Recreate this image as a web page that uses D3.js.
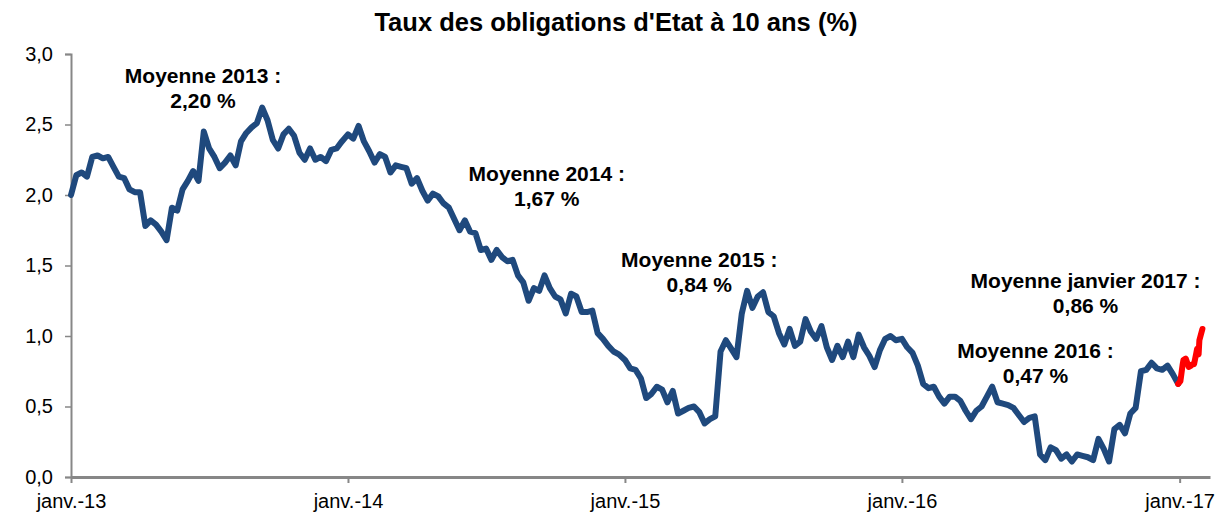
<!DOCTYPE html>
<html>
<head>
<meta charset="utf-8">
<script src="https://cdn.jsdelivr.net/npm/d3@7"></script>
<style>
  body { margin: 0; background: #fff; }
  text { font-family: "Liberation Sans", Arial, sans-serif; }
</style>
</head>
<body>
<div id="chart"></div>
<script>

//********************* DATA ************************************

// weekly closing rates (%), one array per year, first value on Jan 1st
var rates2013 = [2.00, 2.14, 2.16, 2.13, 2.27, 2.28, 2.26, 2.27, 2.20, 2.13,
                 2.12, 2.04, 2.02, 2.02, 1.78, 1.82, 1.79, 1.74, 1.68, 1.91,
                 1.89, 2.04, 2.10, 2.17, 2.10, 2.45, 2.33, 2.27, 2.19, 2.23,
                 2.28, 2.21, 2.38, 2.44, 2.48, 2.51, 2.62, 2.53, 2.39, 2.33,
                 2.43, 2.47, 2.42, 2.30, 2.25, 2.33, 2.25, 2.27, 2.24, 2.32,
                 2.33, 2.38];
var rates2014 = [2.43, 2.40, 2.49, 2.38, 2.31, 2.23, 2.29, 2.27, 2.16, 2.21,
                 2.20, 2.19, 2.08, 2.12, 2.03, 1.96, 2.01, 1.99, 1.94, 1.91,
                 1.83, 1.75, 1.82, 1.74, 1.73, 1.61, 1.62, 1.54, 1.61, 1.56,
                 1.53, 1.54, 1.43, 1.38, 1.25, 1.34, 1.32, 1.43, 1.34, 1.28,
                 1.26, 1.16, 1.30, 1.28, 1.17, 1.17, 1.18, 1.02, 0.98, 0.93,
                 0.89, 0.87];
var rates2015 = [0.83, 0.77, 0.76, 0.70, 0.56, 0.59, 0.64, 0.62, 0.53, 0.61,
                 0.45, 0.47, 0.49, 0.50, 0.46, 0.38, 0.41, 0.43, 0.89, 0.97,
                 0.91, 0.85, 1.16, 1.32, 1.20, 1.28, 1.31, 1.17, 1.14, 1.02,
                 0.94, 1.05, 0.93, 0.96, 1.12, 1.03, 0.98, 1.07, 0.92, 0.83,
                 0.93, 0.85, 0.96, 0.85, 1.01, 0.92, 0.86, 0.78, 0.90, 0.98,
                 1.00, 0.97];
var rates2016 = [0.98, 0.92, 0.88, 0.79, 0.66, 0.63, 0.64, 0.57, 0.52, 0.57,
                 0.57, 0.54, 0.47, 0.41, 0.47, 0.50, 0.57, 0.64, 0.53, 0.52,
                 0.51, 0.49, 0.44, 0.39, 0.42, 0.43, 0.16, 0.12, 0.21, 0.19,
                 0.13, 0.16, 0.11, 0.16, 0.15, 0.14, 0.12, 0.27, 0.20, 0.11,
                 0.34, 0.37, 0.31, 0.45, 0.49, 0.75, 0.76, 0.81, 0.77, 0.76,
                 0.79, 0.73, 0.66];

// January 2017, daily (day of month / rate)
var jan2017Days  = [2, 3, 5, 6, 9, 11, 13, 16, 18, 20, 23, 24, 26, 27, 30, 31];
var jan2017Rates = [0.68, 0.72, 0.80, 0.83, 0.84, 0.81, 0.78, 0.79, 0.80, 0.80,
                    0.88, 0.91, 0.87, 0.97, 1.03, 1.05];

var yTicks = [0, 0.5, 1, 1.5, 2, 2.5, 3];
var xTickYears = [2013, 2014, 2015, 2016, 2017];
var title = "Taux des obligations d'Etat à 10 ans (%)";

// yearly averages: anchor date, anchor value, text lines
var annotations = [
  {date: "2013-06-24", value: 2.795, lines: ["Moyenne 2013 :", "2,20 %"]},
  {date: "2014-09-20", value: 2.10,  lines: ["Moyenne 2014 :", "1,67 %"]},
  {date: "2015-04-09", value: 1.49,  lines: ["Moyenne 2015 :", "0,84 %"]},
  {date: "2016-08-30", value: 1.34,  lines: ["Moyenne janvier 2017 :", "0,86 %"]},
  {date: "2016-06-25", value: 0.844, lines: ["Moyenne 2016 :", "0,47 %"]}
];


//********************* DIMENSIONS ************************************

var margin = {top: 54, right: 12, bottom: 38, left: 71},
    width = 1222 - margin.left - margin.right,
    height = 515 - margin.top - margin.bottom;

var parseDate = d3.timeParse("%Y-%m-%d");

function weekly(start, values) {
  return values.map(function(v, i) {
    return {date: d3.timeDay.offset(parseDate(start), 7 * i), rate: v};
  });
}

var blueData = []
  .concat(weekly("2013-01-01", rates2013))
  .concat(weekly("2014-01-01", rates2014))
  .concat(weekly("2015-01-01", rates2015))
  .concat(weekly("2016-01-01", rates2016));

var redData = [blueData[blueData.length - 1]].concat(jan2017Days.map(function(d, i) {
  return {date: new Date(2017, 0, d), rate: jan2017Rates[i]};
}));


//********************* SCALES & AXES ************************************

var xScale = d3.scaleTime()
    .domain([new Date(2013, 0, 1), new Date(2017, 1, 10)])
    .range([0, width]);

var yScale = d3.scaleLinear()
    .domain([0, 3])
    .range([height, 0]);

var svg = d3.select("#chart").append("svg")
    .attr("width", 1222)
    .attr("height", 515);

svg.append("text")
    .attr("x", 616)
    .attr("y", 31)
    .attr("text-anchor", "middle")
    .style("font-size", "25.5px")
    .style("font-weight", "bold")
    .text(title);

var g = svg.append("g")
    .attr("transform", "translate(" + margin.left + "," + margin.top + ")");

var yAxis = g.append("g")
    .call(d3.axisLeft(yScale)
      .tickValues(yTicks)
      .tickSize(6)
      .tickPadding(12)
      .tickFormat(function(d) { return d3.format(".1f")(d).replace(".", ","); }));

yAxis.select(".domain").attr("stroke", "#878787").attr("stroke-width", 2);
yAxis.selectAll(".tick line").attr("stroke", "#878787").attr("stroke-width", 1.5);
yAxis.selectAll(".tick text").style("font-size", "20px").attr("fill", "#000");

var xAxis = g.append("g")
    .attr("transform", "translate(0," + height + ")")
    .call(d3.axisBottom(xScale)
      .tickValues(xTickYears.map(function(y) { return new Date(y, 0, 1); }))
      .tickSize(6)
      .tickSizeOuter(0)
      .tickPadding(11)
      .tickFormat(function(d) { return "janv.-" + String(d.getFullYear()).slice(2); }));

xAxis.select(".domain").attr("stroke", "#878787").attr("stroke-width", 3);
xAxis.selectAll(".tick line").attr("stroke", "#878787").attr("stroke-width", 2);
xAxis.selectAll(".tick text").style("font-size", "20px").attr("fill", "#000");


//********************* LINES ************************************

var valueline = d3.line()
    .x(function(d) { return xScale(d.date); })
    .y(function(d) { return yScale(d.rate); });

g.append("path")
    .data([blueData])
    .attr("d", valueline)
    .attr("fill", "none")
    .attr("stroke", "#1f497d")
    .attr("stroke-width", 6)
    .attr("stroke-linejoin", "round")
    .attr("stroke-linecap", "round");

g.append("path")
    .data([redData])
    .attr("d", valueline)
    .attr("fill", "none")
    .attr("stroke", "#ff0000")
    .attr("stroke-width", 6)
    .attr("stroke-linejoin", "round")
    .attr("stroke-linecap", "round");


//********************* ANNOTATIONS ************************************

var notes = g.selectAll(".note")
    .data(annotations)
  .enter().append("text")
    .attr("class", "note")
    .attr("text-anchor", "middle")
    .style("font-size", "21px")
    .style("font-weight", "bold")
    .attr("transform", function(d) {
      return "translate(" + xScale(parseDate(d.date)) + "," + yScale(d.value) + ")";
    });

notes.selectAll("tspan")
    .data(function(d) { return d.lines; })
  .enter().append("tspan")
    .attr("x", 0)
    .attr("dy", function(d, i) { return i === 0 ? 0 : 25; })
    .text(function(d) { return d; });

</script>
</body>
</html>
